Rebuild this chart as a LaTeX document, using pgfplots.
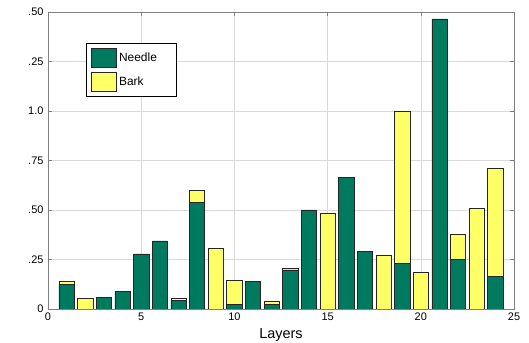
\documentclass[border=0pt]{standalone}
\usepackage{pgfplots}
\pgfplotsset{compat=1.18}
\usepackage{fontspec}
\setmainfont{Liberation Sans}
\definecolor{needle}{RGB}{0,122,94}
\definecolor{bark}{RGB}{255,255,102}
\definecolor{axgray}{RGB}{128,128,128}
\begin{document}
\begin{tikzpicture}
\useasboundingbox (-48bp,-34bp) rectangle (481bp,309bp);
\begin{axis}[
  width=466bp, height=297bp, scale only axis,
  xmin=0, xmax=25, ymin=0, ymax=1.5,
  ybar stacked, bar width=0.82,
  xtick={0,5,10,15,20,25},
  ytick={0,0.25,0.5,0.75,1,1.25,1.5},
  yticklabels={0,.25,.50,.75,1.0,.25,.50},
  /pgf/number format/assume math mode=true,
  tick align=inside,
  major tick length=4bp,
  tick style={axgray, line width=0.5bp},
  axis line style={axgray, line width=0.6bp},
  grid=major,
  major grid style={black!15, line width=0.5bp},
  tick label style={font=\fontsize{11}{13}\selectfont},
  yticklabel style={xshift=-1bp},
  xlabel={Layers},
  xlabel style={font=\fontsize{14.5}{16}\selectfont, yshift=-1bp},
  every axis plot/.append style={draw=black!85, line width=0.6bp},
  legend image code/.code={\draw[#1] (0bp,-9.5bp) rectangle (25bp,9.5bp);},
  legend style={at={(0.082,0.896)}, anchor=north west, draw=black, line width=0.5bp,
    fill=white, inner xsep=5bp, inner ysep=4.5bp, row sep=5bp, column sep=2bp,
    font=\fontsize{12}{14}\selectfont,
    nodes={inner sep=0pt, anchor=west},
    /tikz/every even column/.append style={text width=52bp}},
  legend cell align=left,
]
\addplot[fill=needle] coordinates {
(1,0.126)(2,0)(3,0.057)(4,0.089)(5,0.278)(6,0.344)(7,0.044)(8,0.537)
(9,0)(10,0.023)(11,0.138)(12,0.025)(13,0.197)(14,0.50)(15,0)(16,0.665)
(17,0.289)(18,0)(19,0.231)(20,0)(21,1.465)(22,0.251)(23,0)(24,0.163)};
\addplot[fill=bark] coordinates {
(1,0.012)(2,0.053)(3,0)(4,0)(5,0)(6,0)(7,0.012)(8,0.063)
(9,0.305)(10,0.122)(11,0)(12,0.013)(13,0.010)(14,0)(15,0.483)(16,0)
(17,0)(18,0.273)(19,0.766)(20,0.187)(21,0)(22,0.128)(23,0.507)(24,0.546)};
\legend{Needle, Bark}
\end{axis}
\end{tikzpicture}
\end{document}
